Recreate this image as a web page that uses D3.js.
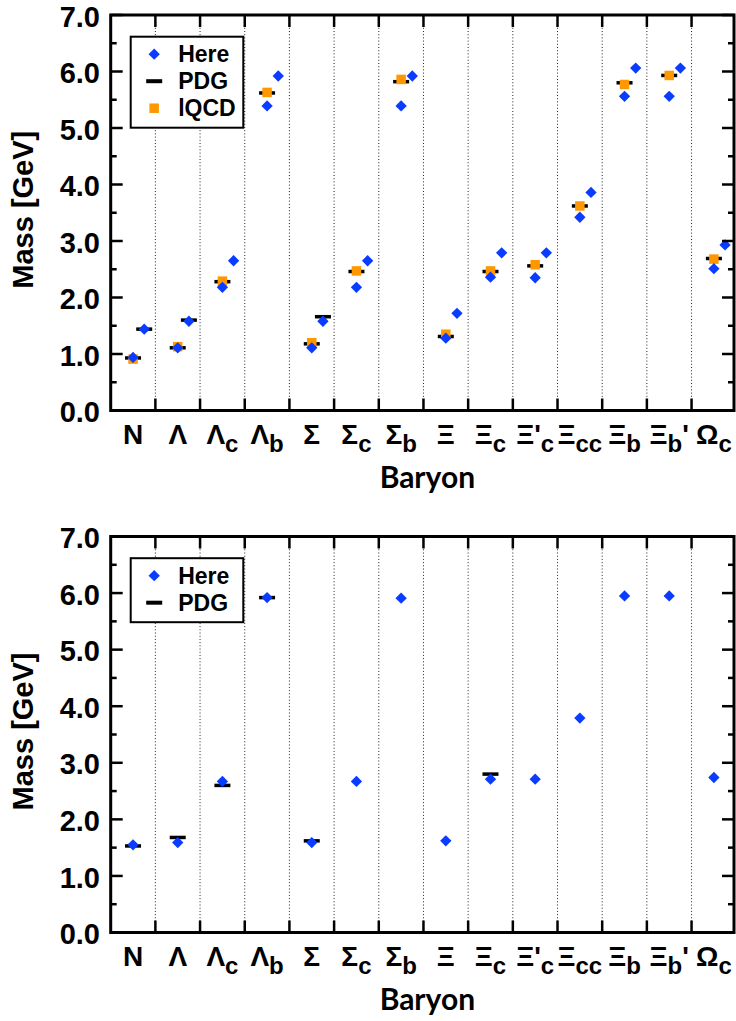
<!DOCTYPE html>
<html><head><meta charset="utf-8">
<script src="https://cdn.jsdelivr.net/npm/d3@7"></script>
<style>body{margin:0;background:#fff}svg{display:block}</style>
</head><body><svg id="c" width="736" height="1021"></svg>
<script>
// ---------- data ----------
const catMain   = ["N","Λ","Λ","Λ","Σ","Σ","Σ","Ξ","Ξ","Ξ'","Ξ","Ξ","Ξ","Ω"];
const catSub    = ["","","c","b","","c","b","","c","c","cc","b","b","c"];
const catSuffix = ["","","","","","","","","","","","","'",""];
const yTickValues = [0,1,2,3,4,5,6,7];
const yMinorValues = [0.5,1.5,2.5,3.5,4.5,5.5,6.5];

// top panel (GeV)
const hereGround  = [0.94, 1.11, 2.18, 5.39, 1.11, 2.18, 5.39, 1.28, 2.36, 2.35, 3.42, 5.56, 5.56, 2.51];
const hereExcited = [1.44, 1.58, 2.65, 5.92, 1.58, 2.65, 5.92, 1.72, 2.79, 2.79, 3.86, 6.06, 6.06, 2.93];
const pdgGround   = [0.93, 1.11, 2.28, 5.62, 1.18, 2.46, 5.82, 1.31, 2.46, 2.56, 3.62, 5.80, 5.93, 2.69];
const pdgExcited  = [1.44, 1.60, null, null, 1.66, null, null, null, null, null, null, null, null, null];
const lqcdGround  = [0.91, 1.13, 2.29, 5.63, 1.20, 2.47, 5.86, 1.35, 2.47, 2.58, 3.62, 5.77, 5.93, 2.68];
// bottom panel (GeV)
const hereNeg = [1.55, 1.59, 2.67, 5.92, 1.59, 2.67, 5.91, 1.62, 2.71, 2.71, 3.79, 5.95, 5.95, 2.74];
const pdgNeg  = [1.53, 1.68, 2.60, 5.92, 1.62, null, null, null, 2.80, null, null, null, null, null];

// ---------- drawing ----------
const BLUE = "#0a3cff", ORANGE = "#ff9800";
const FONT = "'Liberation Sans', Arial, sans-serif";
const svg = d3.select("#c");
svg.append("rect").attr("width",736).attr("height",1021).attr("fill","#fff");

const x = d3.scaleLinear().domain([0.5, 14.45]).range([110.7, 734]);
const idx = d3.range(1, 15);
const dividers = d3.range(1.5, 14, 1);
const DIA = 64;

function panel(top, bottom, series, legendItems) {
  const y = d3.scaleLinear().domain([0,7]).range([bottom, top]);
  const g = svg.append("g");
  g.selectAll(".grid").data(dividers).join("line")
    .attr("x1", d=>x(d)).attr("x2", d=>x(d)).attr("y1", top).attr("y2", bottom)
    .attr("stroke","#222").attr("stroke-width",1).attr("stroke-dasharray","1,2.2");
  series.forEach(s => {
    const pts = s.values.map((v,i)=>({v, i})).filter(d=>d.v!=null);
    const sel = g.selectAll(null).data(pts);
    if (s.type === "bar") {
      sel.join("rect")
        .attr("x", d=>x(idx[d.i]+s.off)-8).attr("y", d=>y(d.v)-1.75)
        .attr("width",16).attr("height",3.5).attr("fill","#000");
    } else if (s.type === "square") {
      sel.join("rect")
        .attr("x", d=>x(idx[d.i]+s.off)-4.75).attr("y", d=>y(d.v)-4.75)
        .attr("width",9.5).attr("height",9.5).attr("fill",ORANGE);
    } else {
      sel.join("path")
        .attr("d", d3.symbol(d3.symbolSquare, DIA))
        .attr("transform", d=>`translate(${x(idx[d.i]+s.off)},${y(d.v)}) rotate(45)`)
        .attr("fill",BLUE);
    }
  });
  g.append("rect").attr("x",x(0.5)).attr("y",top).attr("width",x(14.45)-x(0.5)).attr("height",bottom-top)
    .attr("fill","none").attr("stroke","#000").attr("stroke-width",3);
  [[x(0.5),1],[x(14.45),-1]].forEach(([x0,dir])=>{
    g.selectAll(null).data(yTickValues).join("line")
      .attr("x1",x0).attr("x2",x0+dir*12).attr("y1",d=>y(d)).attr("y2",d=>y(d))
      .attr("stroke","#000").attr("stroke-width",2.5);
    g.selectAll(null).data(yMinorValues).join("line")
      .attr("x1",x0).attr("x2",x0+dir*6).attr("y1",d=>y(d)).attr("y2",d=>y(d))
      .attr("stroke","#000").attr("stroke-width",2.5);
  });
  [[top,1],[bottom,-1]].forEach(([y0,dir])=>{
    g.selectAll(null).data(dividers).join("line")
      .attr("x1",d=>x(d)).attr("x2",d=>x(d)).attr("y1",y0).attr("y2",y0+dir*12)
      .attr("stroke","#000").attr("stroke-width",2.5);
  });
  g.selectAll(null).data(yTickValues).join("text")
    .attr("x",100).attr("y",d=>y(d)+1.5).attr("dy","0.35em")
    .attr("text-anchor","end").attr("font-family",FONT).attr("font-weight","bold")
    .attr("font-size",29).text(d=>d3.format(".1f")(d));
  g.append("text").attr("transform",`translate(33,${(top+bottom)/2-3}) rotate(-90)`)
    .attr("text-anchor","middle").attr("font-family",FONT).attr("font-weight","bold")
    .attr("font-size",29).text("Mass [GeV]");
  const lab = g.selectAll(null).data(idx).join("text")
    .attr("x",d=>x(d)).attr("y",bottom+33).attr("text-anchor","middle")
    .attr("font-family",FONT).attr("font-weight","bold").attr("font-size",28);
  lab.append("tspan").text((d,i)=>catMain[i]);
  lab.append("tspan").attr("font-size",24).attr("dy",(d,i)=>catSub[i]?8:0).text((d,i)=>catSub[i]);
  lab.append("tspan").attr("dy",(d,i)=>catSub[i]?-8:0).text((d,i)=>catSuffix[i]);
  g.append("text").attr("x",(x(0.5)+x(14.45))/2+5).attr("y",bottom+77).attr("text-anchor","middle")
    .attr("font-family","Lato, 'Open Sans', sans-serif").attr("font-weight","bold").attr("font-size",30)
    .text("Baryon");
  const lg = g.append("g").attr("transform",`translate(130.7,${top+21.7})`);
  const rowH = 27;
  lg.append("rect").attr("width",112.6).attr("height",legendItems.length*rowH+10)
    .attr("fill","#fff").attr("stroke","#000").attr("stroke-width",2);
  legendItems.forEach((it,k)=>{
    const cy = 17.5 + k*rowH;
    if (it.type==="diamond") lg.append("path").attr("d",d3.symbol(d3.symbolSquare,DIA))
      .attr("transform",`translate(23.5,${cy}) rotate(45)`).attr("fill",BLUE);
    if (it.type==="bar") lg.append("rect").attr("x",15.5).attr("y",cy-2).attr("width",16).attr("height",4).attr("fill","#000");
    if (it.type==="square") lg.append("rect").attr("x",18.7).attr("y",cy-4.75).attr("width",9.5).attr("height",9.5).attr("fill",ORANGE);
    lg.append("text").attr("x",47.5).attr("y",cy).attr("dy","0.35em")
      .attr("font-family",FONT).attr("font-weight","bold").attr("font-size",23).text(it.label);
  });
}

panel(15, 410.5, [
  {type:"bar", values:pdgGround, off:0},
  {type:"bar", values:pdgExcited, off:0.25},
  {type:"square", values:lqcdGround, off:0},
  {type:"diamond", values:hereGround, off:0},
  {type:"diamond", values:hereExcited, off:0.25}
], [{type:"diamond",label:"Here"},{type:"bar",label:"PDG"},{type:"square",label:"lQCD"}]);

panel(536.5, 932.5, [
  {type:"bar", values:pdgNeg, off:0},
  {type:"diamond", values:hereNeg, off:0}
], [{type:"diamond",label:"Here"},{type:"bar",label:"PDG"}]);
</script></body></html>
